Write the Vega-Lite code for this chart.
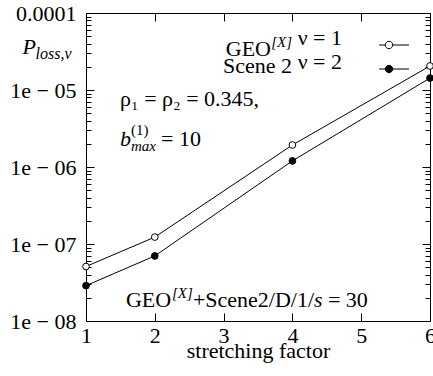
{
  "$schema": "https://vega.github.io/schema/vega-lite/v6.json",
  "width": 344,
  "height": 308,
  "autosize": {"type": "none"},
  "padding": {"left": 86, "top": 13, "right": 3, "bottom": 55},
  "background": "white",
  "config": {
    "font": "Liberation Serif",
    "view": {"stroke": "black", "strokeWidth": 1},
    "axis": {"grid": false, "domain": false, "tickColor": "black", "tickWidth": 1, "labelColor": "black", "titleColor": "black", "labelFont": "Liberation Serif", "titleFont": "Liberation Serif", "labelFontSize": 22, "titleFontWeight": "normal", "labelFlush": false, "labelOverlap": false},
    "legend": {"labelFont": "Liberation Serif", "labelColor": "black"}
  },
  "datasets": {
    "loss": [
      {"stretching": 1, "nu": "ν = 1", "p": 5.1e-8},
      {"stretching": 2, "nu": "ν = 1", "p": 1.23e-7},
      {"stretching": 4, "nu": "ν = 1", "p": 1.93e-6},
      {"stretching": 6, "nu": "ν = 1", "p": 2.05e-5},
      {"stretching": 1, "nu": "ν = 2", "p": 2.88e-8},
      {"stretching": 2, "nu": "ν = 2", "p": 7.0e-8},
      {"stretching": 4, "nu": "ν = 2", "p": 1.2e-6},
      {"stretching": 6, "nu": "ν = 2", "p": 1.43e-5}
    ]
  },
  "data": {"name": "loss"},
  "layer": [
    {
      "mark": {"type": "line", "color": "black", "strokeWidth": 1},
      "encoding": {
        "x": {"field": "stretching", "type": "quantitative", "scale": {"domain": [1, 6], "nice": false, "zero": false},
          "axis": {"orient": "bottom", "values": [1, 2, 3, 4, 5, 6], "tickSize": -8, "labelPadding": 12, "labelFont": "Liberation Serif", "title": "stretching factor", "titleFont": "Liberation Serif", "titleFontSize": 22, "titleY": 36, "titleBaseline": "alphabetic"}},
        "y": {"field": "p", "type": "quantitative", "scale": {"type": "log", "domain": [1e-8, 0.0001], "nice": false},
          "axis": {"orient": "left", "values": [1e-8, 1e-7, 1e-6, 1e-5, 0.0001], "tickSize": -8, "labelPadding": 18, "labelFont": "Liberation Serif",
            "labelExpr": "datum.value >= 0.00009 ? '0.0001' : '1e − 0' + round(-log(datum.value)/LN10)",
            "title": "P", "titleFont": "Liberation Serif", "titleFontStyle": "italic", "titleFontSize": 22, "titleAngle": 0, "titleAlign": "left", "titleBaseline": "alphabetic", "titleX": -64, "titleY": 40}},
        "detail": {"field": "nu"}
      }
    },
    {
      "mark": {"type": "point", "shape": "circle", "filled": true, "stroke": "black", "strokeWidth": 1, "opacity": 1, "size": 45},
      "encoding": {
        "x": {"field": "stretching", "type": "quantitative", "scale": {"domain": [1, 6], "nice": false, "zero": false},
          "axis": {"orient": "top", "values": [2, 3, 4, 5], "tickSize": -8, "labels": false, "title": null}},
        "y": {"field": "p", "type": "quantitative", "scale": {"type": "log", "domain": [1e-8, 0.0001], "nice": false},
          "axis": {"orient": "right", "values": [1e-8, 1e-7, 1e-6, 1e-5, 0.0001], "tickSize": -8, "labels": false, "title": null}},
        "fill": {"field": "nu", "type": "nominal", "scale": {"domain": ["ν = 1", "ν = 2"], "range": ["white", "black"]},
          "legend": {"orient": "none", "legendX": 292, "legendY": 21, "title": null, "padding": 0,
            "symbolType": "M-1,0H-0.37M0.37,0H2M0.37,0A0.37,0.37,0,1,1,-0.37,0A0.37,0.37,0,1,1,0.37,0Z",
            "symbolSize": 400, "symbolStrokeColor": "black", "symbolStrokeWidth": 1,
            "labelFont": "Liberation Serif", "labelFontSize": 22, "labelAlign": "right", "labelOffset": -58, "labelBaseline": "alphabetic", "rowPadding": 0, "labelLimit": 200,
            "encode": {"labels": {"update": {"dy": {"value": 20}}}}}}
      }
    },
    {
      "data": {"values": [{}]},
      "mark": {"type": "point", "opacity": 0},
      "encoding": {
        "x": {"datum": 3, "type": "quantitative", "scale": {"domain": [1, 6], "nice": false, "zero": false}, "axis": null},
        "y": {"datum": 1e-6, "type": "quantitative", "scale": {"type": "log", "domain": [1e-8, 0.0001], "nice": false},
          "axis": {"orient": "left", "values": [2e-8, 3e-8, 4e-8, 5e-8, 6e-8, 7e-8, 8e-8, 9e-8, 2e-7, 3e-7, 4e-7, 5e-7, 6e-7, 7e-7, 8e-7, 9e-7, 2e-6, 3e-6, 4e-6, 5e-6, 6e-6, 7e-6, 8e-6, 9e-6, 2e-5, 3e-5, 4e-5, 5e-5, 6e-5, 7e-5, 8e-5, 9e-5],
            "tickSize": -5, "labels": false, "title": "loss,ν", "titleFont": "Liberation Serif", "titleFontStyle": "italic", "titleFontSize": 16, "titleAngle": 0, "titleAlign": "left", "titleBaseline": "alphabetic", "titleX": -51, "titleY": 45}}
      }
    },
    {
      "data": {"values": [{}]},
      "mark": {"type": "point", "opacity": 0},
      "encoding": {
        "x": {"datum": 3, "type": "quantitative", "scale": {"domain": [1, 6], "nice": false, "zero": false}, "axis": null},
        "y": {"datum": 1e-6, "type": "quantitative", "scale": {"type": "log", "domain": [1e-8, 0.0001], "nice": false},
          "axis": {"orient": "right", "values": [2e-8, 3e-8, 4e-8, 5e-8, 6e-8, 7e-8, 8e-8, 9e-8, 2e-7, 3e-7, 4e-7, 5e-7, 6e-7, 7e-7, 8e-7, 9e-7, 2e-6, 3e-6, 4e-6, 5e-6, 6e-6, 7e-6, 8e-6, 9e-6, 2e-5, 3e-5, 4e-5, 5e-5, 6e-5, 7e-5, 8e-5, 9e-5],
            "tickSize": -5, "labels": false, "title": null}}
      }
    },
    {
      "data": {"values": [{}]},
      "mark": {"type": "text", "text": "ρ₁ = ρ₂ = 0.345,", "font": "Liberation Serif", "fontSize": 22, "align": "left", "baseline": "alphabetic", "color": "black"},
      "encoding": {
        "x": {"datum": 1.494, "type": "quantitative", "axis": null},
        "y": {"datum": 6.19e-6, "type": "quantitative", "axis": null}
      }
    },
    {
      "data": {"values": [{}]},
      "mark": {"type": "text", "text": "b", "font": "Liberation Serif", "fontSize": 22, "fontStyle": "italic", "align": "left", "baseline": "alphabetic", "color": "black"},
      "encoding": {
        "x": {"datum": 1.494, "type": "quantitative", "axis": null},
        "y": {"datum": 1.87e-6, "type": "quantitative", "axis": null}
      }
    },
    {
      "data": {"values": [{}]},
      "mark": {"type": "text", "text": "(1)", "font": "Liberation Serif", "fontSize": 15, "dx": 11, "dy": -11, "align": "left", "baseline": "alphabetic", "color": "black"},
      "encoding": {
        "x": {"datum": 1.494, "type": "quantitative", "axis": null},
        "y": {"datum": 1.87e-6, "type": "quantitative", "axis": null}
      }
    },
    {
      "data": {"values": [{}]},
      "mark": {"type": "text", "text": "max", "font": "Liberation Serif", "fontSize": 15, "fontStyle": "italic", "dx": 11, "dy": 5, "align": "left", "baseline": "alphabetic", "color": "black"},
      "encoding": {
        "x": {"datum": 1.494, "type": "quantitative", "axis": null},
        "y": {"datum": 1.87e-6, "type": "quantitative", "axis": null}
      }
    },
    {
      "data": {"values": [{}]},
      "mark": {"type": "text", "text": "= 10", "font": "Liberation Serif", "fontSize": 22, "dx": 41, "align": "left", "baseline": "alphabetic", "color": "black"},
      "encoding": {
        "x": {"datum": 1.494, "type": "quantitative", "axis": null},
        "y": {"datum": 1.87e-6, "type": "quantitative", "axis": null}
      }
    },
    {
      "data": {"values": [{}]},
      "mark": {"type": "text", "text": "GEO", "font": "Liberation Serif", "fontSize": 22, "align": "right", "baseline": "alphabetic", "dx": -21, "color": "black"},
      "encoding": {
        "x": {"datum": 3.994, "type": "quantitative", "axis": null},
        "y": {"datum": 2.77e-5, "type": "quantitative", "axis": null}
      }
    },
    {
      "data": {"values": [{}]},
      "mark": {"type": "text", "text": "[X]", "font": "Liberation Serif", "align": "right", "baseline": "alphabetic", "fontSize": 15, "fontStyle": "italic", "dy": -9, "color": "black"},
      "encoding": {
        "x": {"datum": 3.994, "type": "quantitative", "axis": null},
        "y": {"datum": 2.77e-5, "type": "quantitative", "axis": null}
      }
    },
    {
      "data": {"values": [{}]},
      "mark": {"type": "text", "text": "Scene 2", "font": "Liberation Serif", "fontSize": 22, "align": "right", "baseline": "alphabetic", "color": "black"},
      "encoding": {
        "x": {"datum": 3.994, "type": "quantitative", "axis": null},
        "y": {"datum": 1.66e-5, "type": "quantitative", "axis": null}
      }
    },
    {
      "data": {"values": [{}]},
      "mark": {"type": "text", "text": "GEO", "font": "Liberation Serif", "fontSize": 22, "align": "left", "baseline": "alphabetic", "color": "black"},
      "encoding": {
        "x": {"datum": 1.58, "type": "quantitative", "axis": null},
        "y": {"datum": 1.52e-8, "type": "quantitative", "axis": null}
      }
    },
    {
      "data": {"values": [{}]},
      "mark": {"type": "text", "text": "[X]", "font": "Liberation Serif", "fontSize": 15, "fontStyle": "italic", "dx": 46, "dy": -9, "align": "left", "baseline": "alphabetic", "color": "black"},
      "encoding": {
        "x": {"datum": 1.58, "type": "quantitative", "axis": null},
        "y": {"datum": 1.52e-8, "type": "quantitative", "axis": null}
      }
    },
    {
      "data": {"values": [{}]},
      "mark": {"type": "text", "text": "+Scene2/D/1/", "font": "Liberation Serif", "fontSize": 22, "dx": 67, "align": "left", "baseline": "alphabetic", "color": "black"},
      "encoding": {
        "x": {"datum": 1.58, "type": "quantitative", "axis": null},
        "y": {"datum": 1.52e-8, "type": "quantitative", "axis": null}
      }
    },
    {
      "data": {"values": [{}]},
      "mark": {"type": "text", "text": "s", "font": "Liberation Serif", "fontSize": 22, "fontStyle": "italic", "dx": 188, "align": "left", "baseline": "alphabetic", "color": "black"},
      "encoding": {
        "x": {"datum": 1.58, "type": "quantitative", "axis": null},
        "y": {"datum": 1.52e-8, "type": "quantitative", "axis": null}
      }
    },
    {
      "data": {"values": [{}]},
      "mark": {"type": "text", "text": "= 30", "font": "Liberation Serif", "fontSize": 22, "dx": 202, "align": "left", "baseline": "alphabetic", "color": "black"},
      "encoding": {
        "x": {"datum": 1.58, "type": "quantitative", "axis": null},
        "y": {"datum": 1.52e-8, "type": "quantitative", "axis": null}
      }
    }
  ],
  "resolve": {"axis": {"x": "independent", "y": "independent"}}
}
